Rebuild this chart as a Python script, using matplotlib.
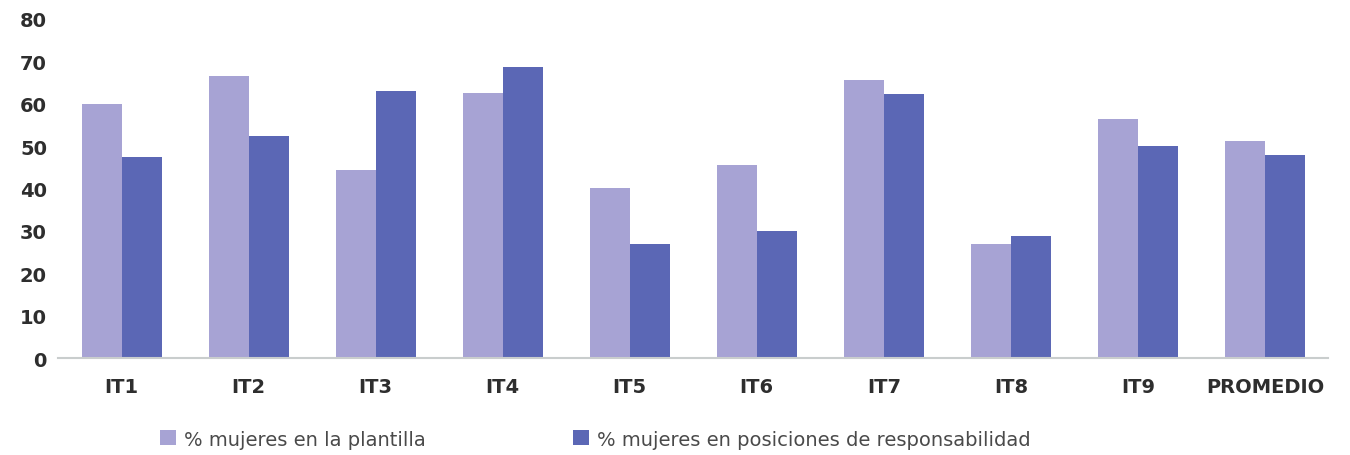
import matplotlib.pyplot as plt
import numpy as np

plt.rcParams['font.family'] = ['DejaVu Sans']

# Data
categories = ['IT1', 'IT2', 'IT3', 'IT4', 'IT5', 'IT6', 'IT7', 'IT8', 'IT9', 'PROMEDIO']
plantilla = [60, 66.5, 44.3, 62.6, 40, 45.6, 65.5, 27, 56.3, 51.3]
responsabilidad = [47.5, 52.5, 63.1, 68.6, 27, 30, 62.4, 28.8, 50.1, 47.8]
series_labels = ['% mujeres en la plantilla', '% mujeres en posiciones de responsabilidad']

light = '#a7a3d4'
dark = '#5b67b5'
text_color = '#2e2e2e'

fig = plt.figure(figsize=(13.5, 4.56), dpi=100)
ax = fig.add_axes([0.043, 0.2127, 0.941, 0.7435])

x = np.arange(len(categories))
w = 0.315
b1 = ax.bar(x - w / 2, plantilla, w, color=light)
b2 = ax.bar(x + w / 2, responsabilidad, w, color=dark)

ax.set_xlim(-0.5, len(categories) - 0.5)
ax.set_ylim(0, 80)
ax.set_yticks(range(0, 81, 10))
ax.set_xticks(x)
ax.set_xticklabels(categories)

for s in ['top', 'right', 'left']:
    ax.spines[s].set_visible(False)
ax.spines['bottom'].set_color('#c9cdcd')
ax.spines['bottom'].set_linewidth(1.5)
ax.tick_params(axis='both', length=0, labelsize=14, labelcolor=text_color)
ax.tick_params(axis='y', pad=8)
ax.tick_params(axis='x', pad=14)
for lbl in ax.get_xticklabels() + ax.get_yticklabels():
    lbl.set_fontweight('bold')

# two single-entry legends so each one sits where it does in the original
for handle, label, xpos in [(b1, series_labels[0], 160 / 1350), (b2, series_labels[1], 573 / 1350)]:
    leg = fig.legend([handle], [label], loc='center left', bbox_to_anchor=(xpos, 0.035),
                     frameon=False, fontsize=14, handlelength=0.8, handleheight=0.8,
                     handletextpad=0.45, borderpad=0, borderaxespad=0)
    leg.get_texts()[0].set_color('#4a4a4a')

fig.savefig('out.png', dpi=100)
